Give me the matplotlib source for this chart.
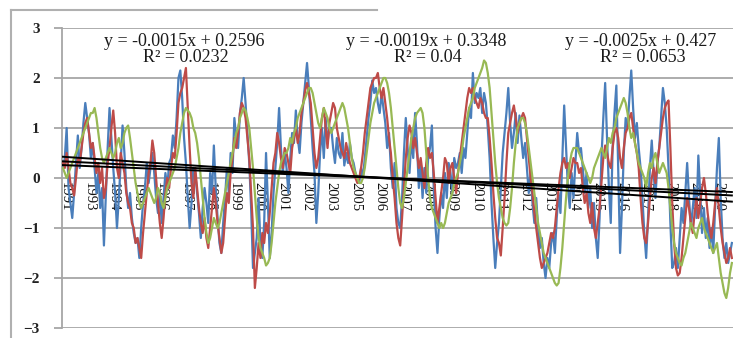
import numpy as np
import matplotlib.pyplot as plt
from matplotlib.lines import Line2D

# monthly index values, Jan 1991 .. Dec 2020 (one row per year)
blue_vals = [
    0.2, 0.4, 1.0, -0.2, -0.5, -0.8, -0.3, 0.3, 0.85, 0.2, 0.6, 1.1,
    1.5, 1.2, 0.9, 0.4, 0.7, 0.2, -0.3, 0.1, -0.6, -0.2, -1.35, -0.4,
    0.6, 1.4, 0.8, 0.2, -0.3, -1.0, -0.4, 0.3, 1.05, 0.5, -0.2, -0.6,
    -0.3, -0.8, -1.1, -1.3, -1.2, -1.6, -1.0, -0.5, -0.2, 0.3, -0.1, 0.2,
    0.5, 0.1, -0.4, -0.7, -0.3, -0.9, -0.4, 0.1, -0.2, 0.3, 0.4, 0.85,
    0.6, 1.2, 2.0, 2.15, 1.6, 0.8, 0.3, -0.4, -1.0, -0.5, 0.2, 0.1,
    -0.3, -0.7, -1.2, -0.6, -0.2, -0.5, -0.9, 0.1, -0.3, 0.65, -0.2, -0.8,
    -1.3, -1.5, -0.9, -0.4, 0.2, -0.3, 0.5, 0.1, 1.2, 0.8, 0.6, 1.3,
    1.6, 2.0, 1.5, 0.9, 0.3, -0.6, -1.8, -1.5, -1.2, -0.4, -1.3, -1.6,
    -0.9, 0.5, -0.5, -1.6, -1.1, -0.3, 0.2, 0.7, 1.4, 0.6, 0.1, 0.5,
    0.2, -0.3, 0.4, 0.9, 0.7, 1.35, 0.8, 0.5, 1.1, 1.5, 1.9, 2.3,
    1.8, 1.2, 0.6, 0.1, -0.9, -0.3, 0.5, 1.0, 0.4, 1.2, 0.7, 1.0,
    1.0, 0.6, 0.3, 0.8, 0.5, 0.4, 0.9, 0.25, 0.5, 0.3, 0.7, 0.4,
    0.3, 0.1, 0.0, -0.1, 0.2, 0.0, 0.4, 0.8, 1.2, 1.5, 1.95, 1.7,
    1.8, 1.5, 1.3, 1.7, 1.4, 1.1, 0.6, 0.9, 0.2, -0.2, 0.3, -0.6,
    -0.9, -1.0, -0.4, 0.5, 1.2, 0.6, 0.1, 0.8, 0.4, 1.3, 0.7, -0.2,
    0.3, -0.4, 0.2, -0.3, 0.4, 0.6, 1.05, -0.2, -1.0, -1.5, -0.8, -0.3,
    -0.6, 0.1, -0.4, 0.3, 0.1, -0.3, 0.4, 0.2, 0.3, 0.5, 0.1, 0.6,
    0.4, 0.9, 1.4, 1.2, 2.1, 1.5, 1.7, 1.6, 1.8, 1.3, 1.7, 1.5,
    1.0, 0.4, -0.5, -1.2, -1.8, -1.3, -0.9, -0.2, 0.5, 0.9, 1.3, 1.8,
    1.1, 0.6, 0.9, 1.3, 0.7, 1.25, 0.8, 0.4, 0.7, 0.2, -0.3, 0.1,
    -0.5, -0.9, -0.4, -1.0, -1.4, -1.2, -1.7, -2.0, -1.6, -1.8, -1.3, -1.1,
    -1.5, -0.8, -0.3, -0.7, 0.4, 1.45, 0.6, -0.2, -0.6, 0.1, -0.4, 0.3,
    0.9, 0.5, 0.6, 0.2, -0.3, 0.1, -0.6, -0.2, -1.0, -0.5, -1.2, -1.6,
    -0.8, 0.4, 1.2, 1.9, 0.8, -0.2, -0.9, 0.6, 1.3, 1.85, 0.2, -1.5,
    -0.6, 0.5, 1.2, 1.0, 1.6, 2.15, 1.4, 0.8, 1.1, 0.6, 0.2, -0.4,
    -1.1, -1.6, -0.8, 0.2, 0.75, 0.1, -0.4, 0.3, 0.6, 1.2, 1.8, 1.5,
    1.0, 0.2, -0.9, -1.8, -1.7, -1.4, -1.8, -1.2, -0.6, -0.9, -0.3, 0.3,
    -0.4, -1.0, -0.6, -0.2, -0.8, 0.45, -0.3, -1.1, -0.6, -1.2, -0.8, -1.4,
    -1.0, -1.5, -0.6, 0.2, 0.8, -0.4, -1.2, -1.6, -1.3, -1.7, -1.5, -1.3,
]

red_vals = [
    0.3, 0.2, 0.5, 0.2, -0.1, -0.2, -0.35, 0.0, 0.4, 0.3, 0.6, 0.9,
    1.1, 1.2, 0.9, 0.6, 0.7, 0.4, 0.1, 0.3, -0.1, 0.2, -0.4, -0.2,
    0.3, 0.6, 1.0, 1.35, 0.9, 0.2, 0.0, 0.5, 0.3, 0.1, -0.3, -0.5,
    -0.6, -0.9, -1.0, -1.3, -1.2, -1.4, -1.6, -1.1, -0.7, -0.3, 0.1, 0.3,
    0.75, 0.5, 0.0, -0.5, -0.9, -1.2, -0.8, -0.3, 0.0, -0.2, 0.2, 0.5,
    0.4, 0.9, 1.5, 1.7, 1.8, 2.0, 2.2, 1.4, 0.6, -0.1, -0.4, 0.2,
    -0.2, -0.6, -0.9, -1.1, -0.8, -1.2, -1.4, -1.0, -0.6, -0.2, -0.5, -0.9,
    -1.2, -1.5, -1.3, -0.8, -0.3, -0.5, 0.1, 0.4, 0.8, 0.6, 0.9, 1.3,
    1.5, 1.4, 1.2, 0.8, 0.4, -0.3, -1.0, -2.2, -1.8, -1.3, -1.6, -1.1,
    -1.3, -0.9, -1.1, -0.7, -0.2, 0.3, 0.5, 0.9, 0.7, 0.4, 0.2, 0.6,
    0.5, 0.3, 0.1, 0.6, 0.8, 1.0, 0.7, 0.9, 1.3, 1.5, 1.75, 1.9,
    1.7, 1.5, 1.0, 0.5, 0.2, 0.4, 0.8, 1.2, 1.4, 1.0, 0.6, 1.1,
    1.3, 1.5, 1.4, 1.0, 0.8, 0.6, 0.5, 0.4, 0.7, 0.5, 0.3, 0.2,
    0.1, 0.0, -0.1, 0.0, 0.2, 0.5, 0.9, 1.2, 1.5, 1.8, 1.9, 2.0,
    2.0, 2.1, 1.8, 1.6, 1.8, 1.5, 1.2, 0.8, 0.5, 0.0, -0.4, -0.9,
    -1.2, -1.35, -0.8, -0.2, 0.4, 0.8, 1.05, 0.9, 0.6, 0.8, 0.5, 0.2,
    0.4, 0.1, -0.2, 0.3, 0.6, 0.4, 0.5, 0.1, -0.4, -0.9, -0.6, -0.3,
    0.0, 0.4, 0.3, -0.1, 0.2, 0.3, 0.0, -0.3, 0.1, 0.4, 0.7, 1.0,
    1.3, 1.6, 1.8, 1.7, 1.8, 1.6, 1.5, 1.4, 1.6, 1.5, 1.3, 1.2,
    1.2, 0.8, 0.3, -0.3, -0.8, -1.2, -1.3, -1.55, -1.0, -0.4, 0.3, 0.9,
    1.1, 1.3, 1.45, 1.2, 0.9, 1.1, 1.2, 1.3, 1.2, 0.8, 0.4, 0.0,
    -0.3, -0.7, -1.0, -1.3, -1.6, -1.8, -1.7, -1.6, -1.5, -1.3, -1.1, -1.2,
    -1.0, -0.6, -0.2, 0.1, 0.3, 0.4, 0.2, 0.3, 0.0, 0.2, 0.4, 0.3,
    0.3, 0.1, 0.2, -0.2, -0.5, -0.3, -0.7, -0.9, -0.5, -1.0, -1.2, -0.9,
    -0.6, -0.1, 0.4, 0.65, 0.5, 0.3, 0.2, 0.6, 0.9, 1.0, 0.8, 0.4,
    0.2, 0.6, 0.9, 1.0, 1.2, 1.3, 1.0, 0.7, 0.5, 0.2, -0.4, -0.9,
    -1.2, -1.3, -0.9, -0.4, 0.0, 0.2, -0.1, 0.3, 0.6, 0.9, 1.2, 1.4,
    1.5, 1.55, 0.6, -0.5, -1.3, -1.8, -1.95, -1.9, -1.6, -1.2, -0.8, -0.4,
    -0.6, -0.9, -1.1, -0.7, -0.4, -0.8, -0.5, -0.2, 0.0, -0.3, -0.7, -1.0,
    -1.2, -0.9, -0.5, -0.2, -0.6, -1.0, -1.3, -1.5, -1.7, -1.6, -1.4, -1.6,
]

green_vals = [
    0.2, 0.1, 0.0, 0.1, 0.2, 0.3, 0.4, 0.5, 0.6, 0.7, 0.8, 0.9,
    1.0, 1.1, 1.2, 1.3, 1.3, 1.4, 1.2, 0.9, 0.6, 0.4, 0.3, 0.4,
    0.5, 0.6, 0.5, 0.4, 0.5, 0.7, 0.8, 0.6, 0.7, 0.9, 1.0, 1.05,
    0.8, 0.5, 0.2, -0.1, -0.3, -0.5, -0.6, -0.5, -0.4, -0.3, -0.2, -0.3,
    -0.4, -0.5, -0.4, -0.2, -0.3, -0.5, -0.6, -0.4, -0.2, -0.1, 0.0, 0.1,
    0.2, 0.4, 0.6, 0.9, 1.1, 1.3, 1.4, 1.35, 1.3, 1.2, 1.0, 0.9,
    0.7, 0.4, 0.0, -0.4, -0.8, -1.1, -1.3, -1.2, -1.0, -0.8, -0.9, -1.0,
    -0.9, -0.7, -0.5, -0.3, -0.1, 0.1, 0.3, 0.5, 0.7, 0.9, 1.0, 1.2,
    1.3, 1.4, 1.35, 1.2, 1.0, 0.6, 0.2, -0.3, -0.8, -1.2, -1.4, -1.5,
    -1.6, -1.75, -1.7, -1.6, -1.3, -0.9, -0.5, -0.2, 0.1, 0.3, 0.4, 0.5,
    0.5, 0.6, 0.8, 0.7, 0.9, 1.0, 1.2, 1.3, 1.4, 1.5, 1.6, 1.7,
    1.8, 1.8, 1.7, 1.5, 1.3, 1.1, 1.0, 1.2, 1.4, 1.3, 1.2, 1.0,
    0.9, 1.0, 1.1, 1.2, 1.3, 1.4, 1.5, 1.4, 1.2, 1.0, 0.7, 0.4,
    0.2, 0.1, 0.0, -0.1, -0.1, 0.0, 0.2, 0.5, 0.8, 1.1, 1.3, 1.5,
    1.6, 1.7, 1.8, 1.9, 2.0, 2.0, 1.9, 1.7, 1.4, 1.0, 0.6, 0.2,
    -0.2, -0.5, -0.6, -0.4, -0.1, 0.2, 0.5, 0.8, 1.0, 1.2, 1.3, 1.35,
    1.4, 1.3, 1.0, 0.5, 0.0, -0.4, -0.6, -0.7, -0.8, -0.9, -1.0, -0.9,
    -1.0, -0.9, -0.7, -0.5, -0.4, -0.3, -0.1, 0.0, 0.1, 0.3, 0.5, 0.8,
    1.0, 1.2, 1.4, 1.5, 1.6, 1.8, 1.9, 2.0, 2.1, 2.2, 2.35, 2.3,
    2.1, 1.8, 1.3, 0.8, 0.3, -0.1, -0.4, -0.6, -0.8, -0.9, -0.95, -0.9,
    -0.6, -0.2, 0.3, 0.7, 1.0, 1.1, 1.2, 1.2, 1.1, 0.9, 0.6, 0.3,
    0.0, -0.3, -0.6, -0.9, -1.1, -1.3, -1.5, -1.6, -1.7, -1.8, -1.9, -2.0,
    -2.1, -2.15, -2.1, -1.8, -1.4, -0.9, -0.4, 0.0, 0.3, 0.5, 0.6, 0.6,
    0.6, 0.5, 0.4, 0.3, 0.2, 0.1, 0.0, -0.1, 0.0, 0.2, 0.3, 0.4,
    0.5, 0.6, 0.5, 0.4, 0.6, 0.8, 0.7, 0.9, 1.0, 1.2, 1.3, 1.4,
    1.5, 1.6, 1.5, 1.3, 1.0, 0.8, 0.9, 0.7, 0.5, 0.3, 0.2, 0.1,
    0.0, -0.2, 0.1, 0.3, 0.2, 0.4, 0.5, 0.3, 0.1, 0.2, 0.3, 0.2,
    0.1, -0.2, -0.6, -1.0, -1.3, -1.5, -1.6, -1.7, -1.75, -1.6, -1.5, -1.3,
    -1.1, -0.9, -1.0, -1.1, -1.2, -1.0, -0.9, -0.8, -1.0, -1.1, -1.2, -1.3,
    -1.4, -1.5, -1.4, -1.3, -1.6, -1.9, -2.1, -2.3, -2.4, -2.2, -1.9, -1.7,
]

# trend line equations shown on the chart
slopes = [-0.0015, -0.0019, -0.0025]
intercepts = [0.2596, 0.3348, 0.427]
r2_vals = ['0.0232', '0.04', '0.0653']

year_labels = ['1991', '1993', '1994', '1995', '1996', '1997', '1998', '1999',
               '2000', '2001', '2002', '2003', '2005', '2006', '2007', '2008',
               '2009', '2010', '2011', '2012', '2013', '2014', '2015', '2016',
               '2017', '2018', '2019', '2020']
label_step = 13  # category axis labels every 13th month

serif = ['Liberation Serif', 'DejaVu Serif']

fig = plt.figure(figsize=(7.47, 3.38), dpi=100)
ax = fig.add_axes([0.083, 0.0296, 0.898, 0.8876])

x = np.arange(len(blue_vals))
ax.plot(x, blue_vals, color='#4a7ebb', lw=1.6, zorder=3)
ax.plot(x, red_vals, color='#be4b48', lw=1.6, zorder=3)
ax.plot(x, green_vals, color='#98b954', lw=1.6, zorder=3)

xt = np.arange(1, len(blue_vals) + 1)
for s, b in zip(slopes, intercepts):
    ax.plot(x, s * xt + b, color='black', lw=1.4, zorder=4)

ax.set_xlim(-0.5, len(blue_vals) - 0.5)
ax.set_ylim(-3, 3)
ax.set_yticks(range(-3, 4))
ax.grid(axis='y', color='#a6a6a6', lw=1.3)
ax.set_axisbelow(True)

for side in ['top', 'right']:
    ax.spines[side].set_visible(False)
ax.spines['left'].set_color('#a6a6a6')
ax.spines['left'].set_linewidth(1.3)
ax.spines['bottom'].set_position(('data', 0))
ax.spines['bottom'].set_visible(False)

ax.tick_params(axis='y', length=6, width=1.3, color='#a6a6a6', pad=10)
for lab in ax.get_yticklabels():
    lab.set_family(serif)
    lab.set_fontweight('bold')
    lab.set_fontsize(11)
    lab.set_color('#222222')

ax.set_xticks(np.arange(len(year_labels)) * label_step + 1)
ax.set_xticklabels(year_labels, rotation=-90, family=serif, fontsize=10.5,
                   color='#111111', va='top', ha='center')
ax.tick_params(axis='x', length=0, pad=3)

# equation boxes
eq_pos = [(184, 42), (426, 42), (641, 42)]
for (px, py), s, b, r2 in zip(eq_pos, slopes, intercepts, r2_vals):
    eq = 'y = %gx + %g' % (s, b)
    fig.text(px / 747, 1 - py / 338, eq, ha='center', va='center',
             family=serif, fontsize=13, color='#1a1a1a')
    fig.text((px + 2) / 747, 1 - (py + 16) / 338, 'R\u00b2 = ' + r2,
             ha='center', va='center', family=serif, fontsize=13, color='#1a1a1a')

# outer frame of the chart area (cropped)
fig.add_artist(Line2D([11 / 747, 11 / 747], [0, 1 - 10 / 338],
                      transform=fig.transFigure, color='#b0b0b0', lw=1.5))
fig.add_artist(Line2D([11 / 747, 377 / 747], [1 - 10 / 338, 1 - 10 / 338],
                      transform=fig.transFigure, color='#b0b0b0', lw=1.5))

fig.savefig('out.png', dpi=100)
